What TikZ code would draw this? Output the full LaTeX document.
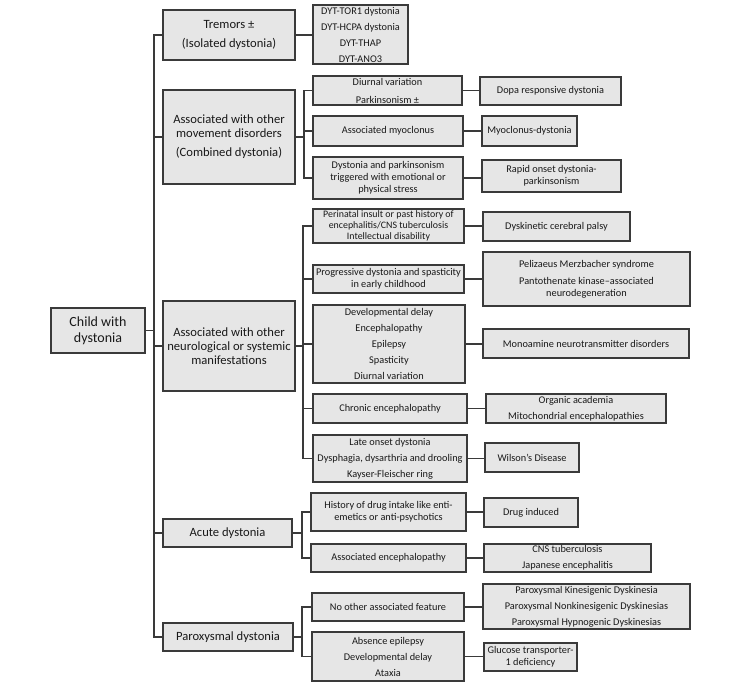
\documentclass[tikz,border=0pt]{standalone}
\usepackage{fontspec}
\setmainfont{Carlito}
\definecolor{boxfill}{HTML}{E6E6E6}
\definecolor{bord}{HTML}{3A3A3A}
\begin{document}
\begin{tikzpicture}[x=1pt,y=-1pt,
  box/.style={draw=bord, fill=boxfill, line width=1.1pt, inner sep=0pt, align=center, text=black!90},
  big/.style={box, font=\fontsize{12.6}{14}\selectfont},
  small/.style={box, font=\fontsize{10.3}{12}\selectfont},
  conn/.style={draw=bord, line width=1.2pt}]
\useasboundingbox (0,0) rectangle (750,686);
% level 0/1
\node[big, font=\fontsize{14}{16}\selectfont, minimum width=94, minimum height=45] (child) at (98,330.5) {Child with\\dystonia};
\node[big, minimum width=132, minimum height=50] (tremor) at (229,35) {Tremors ±\\[5pt](Isolated dystonia)};
\node[big, minimum width=132, minimum height=94] (comb) at (229,137) {Associated with other\\movement disorders\\[5pt](Combined dystonia)};
\node[big, minimum width=132, minimum height=90] (neuro) at (229,346) {Associated with other\\neurological or systemic\\manifestations};
\node[big, minimum width=129, minimum height=28] (acute) at (227.5,533) {Acute dystonia};
\node[big, minimum width=130, minimum height=28] (parox) at (228,637) {Paroxysmal dystonia};
% level 2
\node[small, minimum width=95, minimum height=59] (dyt) at (360.5,34.5) {DYT-TOR1 dystonia\\[4pt]DYT-HCPA dystonia\\[4pt]DYT-THAP\\[4pt]DYT-ANO3};
\node[small, minimum width=149, minimum height=29] (diur) at (387.5,90.5) {Diurnal variation\\[6pt]Parkinsonism ±};
\node[small, minimum width=150, minimum height=30] (myo) at (388,131) {Associated myoclonus};
\node[small, minimum width=150, minimum height=42] (dyspk) at (388,178) {Dystonia and parkinsonism\\triggered with emotional or\\physical stress};
\node[small, font=\fontsize{9.9}{11}\selectfont, minimum width=151, minimum height=34] (peri) at (388.5,226) {Perinatal insult or past history of\\encephalitis/CNS tuberculosis\\Intellectual disability};
\node[small, minimum width=151, minimum height=28] (prog) at (388.5,279) {Progressive dystonia and spasticity\\in early childhood};
\node[small, minimum width=152, minimum height=78] (dev) at (389,344) {Developmental delay\\[4pt]Encephalopathy\\[4pt]Epilepsy\\[4pt]Spasticity\\[4pt]Diurnal variation};
\node[small, minimum width=154, minimum height=29] (chron) at (390,408.5) {Chronic encephalopathy};
\node[small, minimum width=154, minimum height=47] (late) at (390,458.5) {Late onset dystonia\\[4pt]Dysphagia, dysarthria and drooling\\[4pt]Kayser-Fleischer ring};
\node[small, minimum width=155, minimum height=38] (hist) at (388.5,512) {History of drug intake like enti-\\emetics or anti-psychotics};
\node[small, minimum width=155, minimum height=28] (aenc) at (388.5,558) {Associated encephalopathy};
\node[small, minimum width=152, minimum height=28] (noo) at (388,607) {No other associated feature};
\node[small, minimum width=152, minimum height=49] (abs) at (388,656.5) {Absence epilepsy\\[4pt]Developmental delay\\[4pt]Ataxia};
% level 3
\node[small, minimum width=141, minimum height=28] (dopa) at (550.5,91) {Dopa responsive dystonia};
\node[small, minimum width=95, minimum height=30] (myod) at (529.5,131) {Myoclonus-dystonia};
\node[small, minimum width=139, minimum height=32] (rapid) at (551.5,176) {Rapid onset dystonia-\\parkinsonism};
\node[small, minimum width=147, minimum height=29] (dcp) at (556.5,226.5) {Dyskinetic cerebral palsy};
\node[small, minimum width=207, minimum height=54] (peliz) at (586.5,279) {Pelizaeus Merzbacher syndrome\\[5pt]Pantothenate kinase–associated\\neurodegeneration};
\node[small, minimum width=206, minimum height=29] (mono) at (586,343.5) {Monoamine neurotransmitter disorders};
\node[small, minimum width=180, minimum height=29] (org) at (576,408.5) {Organic academia\\[4pt]Mitochondrial encephalopathies};
\node[small, minimum width=94, minimum height=29] (wil) at (532,457.5) {Wilson’s Disease};
\node[small, minimum width=94, minimum height=29] (drug) at (531,512.5) {Drug induced};
\node[small, minimum width=167, minimum height=28] (cns) at (567.5,558) {CNS tuberculosis\\[4pt]Japanese encephalitis};
\node[small, minimum width=207, minimum height=45] (pkd) at (586.5,606.5) {Paroxysmal Kinesigenic Dyskinesia\\[4pt]Paroxysmal Nonkinesigenic Dyskinesias\\[4pt]Paroxysmal Hypnogenic Dyskinesias};
\node[small, minimum width=93, minimum height=28] (glut) at (530.5,657) {Glucose transporter-\\1 deficiency};
% branch coordinates
\coordinate (sp) at (154,0);
\coordinate (b1) at (304,0);
\coordinate (b2) at (303,0);
\coordinate (b3) at (302,0);
\coordinate (b4) at (302,0);
% spine
\draw[conn] (tremor.west) -- (tremor.west -| sp) -- (parox.west -| sp) -- (parox.west);
\draw[conn] (child.east) -- (child.east -| sp);
\draw[conn] (comb.west) -- (comb.west -| sp);
\draw[conn] (neuro.west) -- (neuro.west -| sp);
\draw[conn] (acute.west) -- (acute.west -| sp);
% tremor
\draw[conn] (tremor.east) -- (tremor.east -| dyt.west);
% combined
\draw[conn] (comb.east) -- (comb.east -| b1);
\draw[conn] (diur.west) -- (diur.west -| b1) -- (dyspk.west -| b1) -- (dyspk.west);
\draw[conn] (myo.west) -- (myo.west -| b1);
% neuro
\draw[conn] (neuro.east) -- (neuro.east -| b2);
\draw[conn] (peri.west) -- (peri.west -| b2) -- (late.west -| b2) -- (late.west);
\draw[conn] (prog.west) -- (prog.west -| b2);
\draw[conn] (dev.west) -- (dev.west -| b2);
\draw[conn] (chron.west) -- (chron.west -| b2);
% acute
\draw[conn] (acute.east) -- (acute.east -| b3);
\draw[conn] (hist.west) -- (hist.west -| b3) -- (aenc.west -| b3) -- (aenc.west);
% paroxysmal
\draw[conn] (parox.east) -- (parox.east -| b4);
\draw[conn] (noo.west) -- (noo.west -| b4) -- (abs.west -| b4) -- (abs.west);
% level 2 -> 3
\draw[conn] (diur.east) -- (diur.east -| dopa.west);
\draw[conn] (myo.east) -- (myo.east -| myod.west);
\draw[conn] (dyspk.east) -- (dyspk.east -| rapid.west);
\draw[conn] (peri.east) -- (peri.east -| dcp.west);
\draw[conn] (prog.east) -- (prog.east -| peliz.west);
\draw[conn] (dev.east) -- (dev.east -| mono.west);
\draw[conn] (chron.east) -- (chron.east -| org.west);
\draw[conn] (late.east) -- (late.east -| wil.west);
\draw[conn] (hist.east) -- (hist.east -| drug.west);
\draw[conn] (aenc.east) -- (aenc.east -| cns.west);
\draw[conn] (noo.east) -- (noo.east -| pkd.west);
\draw[conn] (abs.east) -- (abs.east -| glut.west);
\end{tikzpicture}
\end{document}
